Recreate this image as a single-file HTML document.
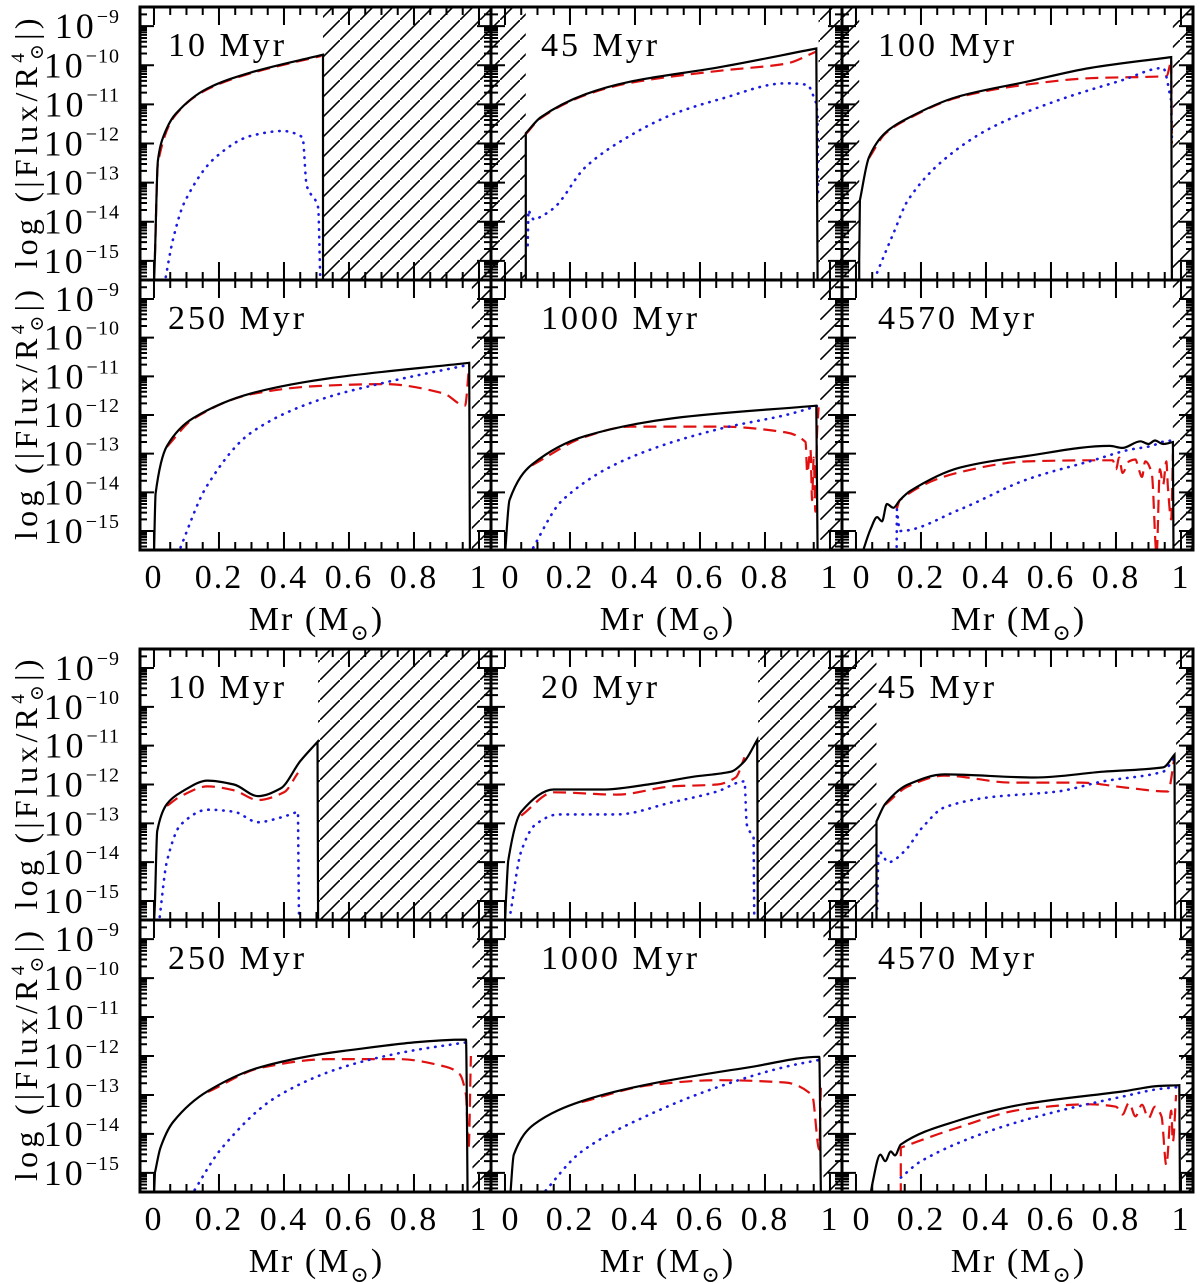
<!DOCTYPE html>
<html><head><meta charset="utf-8">
<style>
html,body{margin:0;padding:0;background:#fff;}
svg{display:block;font-family:"Liberation Serif","DejaVu Serif",serif;}
</style></head>
<body>
<svg id="fig" xmlns="http://www.w3.org/2000/svg" width="1200" height="1283" viewBox="0 0 1200 1283">
<defs>
<pattern id="hatch" patternUnits="userSpaceOnUse" width="20" height="20">
<line x1="-2" y1="22" x2="22" y2="-2" stroke="#000" stroke-width="1.6"/>
</pattern>
</defs>
</svg>
<script>
// ---- data: [mass (Msun), log10 |Flux/R^4|] ----
const b1_10_black=[[0,-15.6],[0.003,-14.9],[0.012,-12.44],[0.03,-11.8],[0.067,-11.24],[0.163,-10.6],[0.3,-10.18],[0.52,-9.73],[0.52,-15.6]];
const b1_10_red=[[0.003,-14.9],[0.012,-12.5],[0.067,-11.26],[0.163,-10.62],[0.3,-10.2],[0.515,-9.76]];
const b1_10_blue=[[0.032,-15.6],[0.06,-14.4],[0.094,-13.5],[0.19,-12.35],[0.3,-11.8],[0.396,-11.68],[0.457,-11.84],[0.47,-13.08],[0.505,-13.63],[0.512,-15.6]];
const b1_10_hatch=[[0.52,1.1]];

const b1_45_black=[[0.064,-15.6],[0.064,-11.74],[0.11,-11.33],[0.248,-10.74],[0.385,-10.42],[0.66,-10.05],[0.958,-9.57],[0.962,-15.6]];
const b1_45_red=[[0.064,-11.76],[0.11,-11.35],[0.248,-10.76],[0.385,-10.45],[0.66,-10.14],[0.864,-9.96],[0.958,-9.65]];
const b1_45_blue=[[0.07,-14.6],[0.072,-13.7],[0.09,-13.95],[0.104,-13.9],[0.153,-13.63],[0.248,-12.6],[0.385,-11.8],[0.52,-11.24],[0.66,-10.87],[0.864,-10.46],[0.93,-10.5],[0.958,-10.97],[0.962,-11.3],[0.963,-13.4]];
const b1_45_hatch=[[-0.1,0.064],[0.965,1.1]];

const b1_100_black=[[0.01,-15.6],[0.01,-14.98],[0.012,-13.45],[0.04,-12.35],[0.09,-11.73],[0.16,-11.35],[0.31,-10.81],[0.52,-10.43],[0.72,-10.07],[0.97,-9.79],[0.972,-15.6]];
const b1_100_red=[[0.04,-12.37],[0.09,-11.75],[0.16,-11.37],[0.31,-10.83],[0.52,-10.5],[0.72,-10.33],[0.955,-10.28],[0.97,-9.85],[0.972,-12.0]];
const b1_100_blue=[[0.065,-15.3],[0.115,-14.3],[0.16,-13.45],[0.27,-12.42],[0.42,-11.58],[0.62,-10.9],[0.82,-10.38],[0.945,-10.07],[0.97,-10.9],[0.972,-11.9]];
const b1_100_hatch=[[-0.1,0.01],[0.975,1.1]];

const b1_250_black=[[0,-15.6],[0.005,-14.03],[0.04,-12.8],[0.121,-12.08],[0.3,-11.44],[0.533,-11.06],[0.97,-10.65],[0.972,-15.6]];
const b1_250_red=[[0.04,-12.82],[0.121,-12.1],[0.3,-11.46],[0.505,-11.25],[0.711,-11.2],[0.89,-11.44],[0.957,-11.76],[0.97,-10.7]];
const b1_250_blue=[[0.073,-15.6],[0.163,-13.83],[0.3,-12.45],[0.505,-11.62],[0.711,-11.16],[0.97,-10.7]];
const b1_250_hatch=[[0.978,1.1]];

const b1_1000_black=[[0,-15.6],[0.014,-14.2],[0.083,-13.28],[0.248,-12.54],[0.52,-12.08],[0.958,-11.76],[0.962,-15.6]];
const b1_1000_red=[[0.083,-13.3],[0.248,-12.56],[0.385,-12.3],[0.66,-12.3],[0.864,-12.45],[0.925,-12.7],[0.93,-13.5],[0.94,-12.9],[0.945,-14.2],[0.95,-13.1],[0.955,-14.5],[0.96,-12.5],[0.965,-11.8]];
const b1_1000_blue=[[0.075,-15.6],[0.177,-14.2],[0.385,-13.1],[0.66,-12.36],[0.864,-12.0],[0.965,-11.76]];
const b1_1000_hatch=[[0.97,1.1]];

const b1_4570_black=[[0.018,-15.6],[0.045,-14.95],[0.065,-14.64],[0.08,-14.75],[0.095,-14.3],[0.115,-14.4],[0.135,-14.2],[0.166,-13.97],[0.32,-13.36],[0.525,-13.06],[0.781,-12.8],[0.82,-12.85],[0.875,-12.68],[0.9,-12.75],[0.92,-12.66],[0.945,-12.75],[0.975,-12.7],[0.977,-15.6]];
const b1_4570_red=[[0.125,-14.44],[0.135,-14.2],[0.32,-13.48],[0.525,-13.2],[0.73,-13.17],[0.79,-13.17],[0.8,-13.4],[0.81,-13.1],[0.82,-13.5],[0.84,-13.2],[0.86,-13.15],[0.87,-13.4],[0.88,-13.6],[0.89,-13.2],[0.91,-13.5],[0.925,-15.6],[0.935,-13.4],[0.945,-13.8],[0.955,-13.2],[0.96,-13.9],[0.97,-14.7],[0.975,-13.0]];
const b1_4570_blue=[[0.125,-15.6],[0.126,-14.44],[0.135,-15.0],[0.32,-14.44],[0.525,-13.67],[0.73,-13.17],[0.84,-12.9],[0.91,-12.8],[0.94,-12.7],[0.97,-12.66]];
const b1_4570_hatch=[[0.975,1.1]];

const b2_10_black=[[0,-15.6],[0.003,-15.08],[0.01,-13.2],[0.04,-12.5],[0.083,-12.2],[0.165,-11.9],[0.246,-12.0],[0.32,-12.3],[0.39,-12.1],[0.45,-11.4],[0.503,-10.9],[0.505,-15.6]];
const b2_10_red=[[0.04,-12.55],[0.083,-12.3],[0.165,-12.05],[0.246,-12.15],[0.32,-12.4],[0.4,-12.2],[0.443,-11.7]];
const b2_10_blue=[[0.015,-15.6],[0.04,-13.97],[0.083,-13.03],[0.165,-12.65],[0.246,-12.7],[0.32,-12.97],[0.39,-12.85],[0.443,-12.7],[0.446,-15.3],[0.448,-15.6]];
const b2_10_hatch=[[0.505,1.1]];

const b2_20_black=[[0,-15.6],[0.003,-15.0],[0.01,-13.97],[0.05,-12.7],[0.15,-12.13],[0.3,-12.13],[0.44,-12.0],[0.58,-11.8],[0.695,-11.67],[0.737,-11.4],[0.776,-10.85],[0.778,-15.6]];
const b2_20_red=[[0.05,-12.8],[0.15,-12.2],[0.345,-12.26],[0.513,-12.05],[0.653,-12.0],[0.71,-11.82],[0.737,-11.3]];
const b2_20_blue=[[0.017,-15.3],[0.05,-13.72],[0.094,-13.03],[0.164,-12.77],[0.345,-12.77],[0.513,-12.46],[0.653,-12.18],[0.737,-11.92],[0.744,-13.03],[0.765,-13.36],[0.767,-15.6]];
const b2_20_hatch=[[0.779,1.1]];

const b2_45_black=[[0.063,-15.6],[0.063,-12.95],[0.09,-12.5],[0.16,-12.0],[0.272,-11.74],[0.55,-11.82],[0.76,-11.67],[0.945,-11.56],[0.98,-11.23],[0.982,-15.6]];
const b2_45_red=[[0.09,-12.52],[0.16,-12.05],[0.272,-11.77],[0.48,-11.95],[0.69,-11.95],[0.83,-12.08],[0.96,-12.18],[0.98,-11.3]];
const b2_45_blue=[[0.065,-15.2],[0.07,-13.72],[0.1,-14.0],[0.149,-13.72],[0.205,-13.1],[0.272,-12.59],[0.41,-12.33],[0.62,-12.18],[0.76,-11.92],[0.945,-11.67],[0.98,-11.3]];
const b2_45_hatch=[[-0.1,0.063],[0.985,1.1]];

const b2_250_black=[[0,-15.6],[0.003,-15.0],[0.02,-14.35],[0.06,-13.68],[0.166,-12.9],[0.33,-12.28],[0.584,-11.87],[0.96,-11.58],[0.965,-15.6]];
const b2_250_red=[[0.166,-12.92],[0.33,-12.3],[0.54,-12.08],[0.75,-12.08],[0.9,-12.28],[0.94,-12.46],[0.96,-13.0],[0.968,-14.4],[0.975,-12.0]];
const b2_250_blue=[[0.113,-15.6],[0.21,-14.35],[0.375,-13.06],[0.584,-12.28],[0.79,-11.87],[0.96,-11.65]];
const b2_250_hatch=[[0.98,1.1]];

const b2_1000_black=[[0.016,-15.6],[0.027,-14.53],[0.09,-13.75],[0.236,-13.16],[0.445,-12.72],[0.758,-12.28],[0.967,-12.02],[0.972,-15.6]];
const b2_1000_red=[[0.236,-13.18],[0.445,-12.75],[0.654,-12.62],[0.862,-12.68],[0.945,-13.0],[0.967,-14.4],[0.972,-12.8]];
const b2_1000_blue=[[0.11,-15.6],[0.236,-14.45],[0.445,-13.5],[0.654,-12.8],[0.862,-12.28],[0.967,-12.1]];
const b2_1000_hatch=[[0.98,1.1]];

const b2_4570_black=[[0.044,-15.6],[0.05,-15.3],[0.075,-14.53],[0.09,-14.7],[0.107,-14.45],[0.12,-14.55],[0.138,-14.27],[0.305,-13.68],[0.514,-13.24],[0.827,-12.9],[0.93,-12.77],[0.995,-12.75],[0.997,-15.6]];
const b2_4570_red=[[0.138,-15.6],[0.138,-14.35],[0.305,-13.86],[0.514,-13.37],[0.72,-13.24],[0.8,-13.3],[0.82,-13.5],[0.84,-13.2],[0.86,-13.55],[0.88,-13.25],[0.9,-13.6],[0.92,-13.3],[0.94,-13.55],[0.955,-14.8],[0.97,-13.4],[0.975,-14.2],[0.985,-13.0]];
const b2_4570_blue=[[0.138,-15.12],[0.2,-14.7],[0.41,-13.93],[0.62,-13.42],[0.827,-13.03],[0.93,-12.85],[0.99,-12.8]];
const b2_4570_hatch=[[1.0,1.1]];

const panelTitles=["10 Myr","45 Myr","100 Myr","250 Myr","1000 Myr","4570 Myr","10 Myr","20 Myr","45 Myr","250 Myr","1000 Myr","4570 Myr"];
const decadeTicks=[-9,-10,-11,-12,-13,-14,-15];
const xTickLabels=["0","0.2","0.4","0.6","0.8","1"];
const xTickValues=[0,0.2,0.4,0.6,0.8,1];

// ---- layout ----
const NS="http://www.w3.org/2000/svg";
const svg=document.getElementById('fig');
const cols=[140,491,842], colW=351;
const rows=[[7,280],[280,550],[649,920],[920,1192]];
const XMIN=-0.043,XMAX=1.037,YMIN=-15.49,YMAX=-8.51;
function xS(c,m){return cols[c]+(m-XMIN)/(XMAX-XMIN)*colW;}
function yS(r,v){const t=rows[r][0],b=rows[r][1];return b-(v-YMIN)/(YMAX-YMIN)*(b-t);}
function mk(tag,attrs,parent){const e=document.createElementNS(NS,tag);for(const k in attrs)e.setAttribute(k,attrs[k]);(parent||svg).appendChild(e);return e;}

function smoothPath(pts){
  let d='M'+pts[0][0].toFixed(1)+' '+pts[0][1].toFixed(1);
  let runs=[],cur=[pts[0]];
  for(let i=1;i<pts.length;i++){
    if(pts[i][0]-pts[i-1][0]<1.5){runs.push(cur);cur=[pts[i]];}
    else cur.push(pts[i]);
  }
  runs.push(cur);
  runs.forEach((run,ri)=>{
    if(ri>0)d+='L'+run[0][0].toFixed(1)+' '+run[0][1].toFixed(1);
    const n=run.length;if(n<2)return;
    const dl=[],m=[];
    for(let k=0;k<n-1;k++)dl.push((run[k+1][1]-run[k][1])/(run[k+1][0]-run[k][0]));
    for(let k=0;k<n;k++){
      if(k===0)m.push(dl[0]);else if(k===n-1)m.push(dl[n-2]);
      else if(dl[k-1]*dl[k]<=0)m.push(0);
      else m.push(2/(1/dl[k-1]+1/dl[k]));
    }
    for(let k=0;k<n-1;k++){
      const h=run[k+1][0]-run[k][0];
      const c1x=run[k][0]+h/3,c1y=run[k][1]+m[k]*h/3;
      const c2x=run[k+1][0]-h/3,c2y=run[k+1][1]-m[k+1]*h/3;
      d+=`C${c1x.toFixed(1)} ${c1y.toFixed(1)} ${c2x.toFixed(1)} ${c2y.toFixed(1)} ${run[k+1][0].toFixed(1)} ${run[k+1][1].toFixed(1)}`;
    }
  });
  return d;
}

const panels=[
 {c:0,r:0,s:[b1_10_black,b1_10_red,b1_10_blue],h:b1_10_hatch,key:"b1-10"},
 {c:1,r:0,s:[b1_45_black,b1_45_red,b1_45_blue],h:b1_45_hatch,key:"b1-45"},
 {c:2,r:0,s:[b1_100_black,b1_100_red,b1_100_blue],h:b1_100_hatch,key:"b1-100"},
 {c:0,r:1,s:[b1_250_black,b1_250_red,b1_250_blue],h:b1_250_hatch,key:"b1-250"},
 {c:1,r:1,s:[b1_1000_black,b1_1000_red,b1_1000_blue],h:b1_1000_hatch,key:"b1-1000"},
 {c:2,r:1,s:[b1_4570_black,b1_4570_red,b1_4570_blue],h:b1_4570_hatch,key:"b1-4570"},
 {c:0,r:2,s:[b2_10_black,b2_10_red,b2_10_blue],h:b2_10_hatch,key:"b2-10"},
 {c:1,r:2,s:[b2_20_black,b2_20_red,b2_20_blue],h:b2_20_hatch,key:"b2-20"},
 {c:2,r:2,s:[b2_45_black,b2_45_red,b2_45_blue],h:b2_45_hatch,key:"b2-45"},
 {c:0,r:3,s:[b2_250_black,b2_250_red,b2_250_blue],h:b2_250_hatch,key:"b2-250"},
 {c:1,r:3,s:[b2_1000_black,b2_1000_red,b2_1000_blue],h:b2_1000_hatch,key:"b2-1000"},
 {c:2,r:3,s:[b2_4570_black,b2_4570_red,b2_4570_blue],h:b2_4570_hatch,key:"b2-4570"}
];
const styles=[
 {n:"total-flux-line",a:{stroke:"#000","stroke-width":"2.2",fill:"none"}},
 {n:"convective-flux-line",a:{stroke:"#e01010","stroke-width":"2.2",fill:"none","stroke-dasharray":"13 7"}},
 {n:"radiative-flux-line",a:{stroke:"#1a1ae0","stroke-width":"2.6",fill:"none","stroke-dasharray":"0.5 7","stroke-linecap":"round"}}
];
const drawOrder=[1,2,0];

panels.forEach((p,i)=>{
  const L=cols[p.c],R=L+colW,T=rows[p.r][0],B=rows[p.r][1];
  const g=mk('g',{});
  
  
  const cp=mk('clipPath',{id:'cp'+i},g);
  mk('rect',{x:L,y:T,width:colW,height:B-T},cp);
  const inner=mk('g',{'clip-path':'url(#cp'+i+')'},g);
  p.h.forEach(hr=>{
    const x0=xS(p.c,hr[0]),x1=xS(p.c,hr[1]);
    const hrect=mk('rect',{x:x0,y:T,width:x1-x0,height:B-T,fill:'url(#hatch)'},inner);
    
    
  });
  drawOrder.forEach(k=>{
    const arr=p.s[k];
    const pts=arr.map(pt=>[xS(p.c,pt[0]),yS(p.r,pt[1])]);
    const path=mk('path',Object.assign({d:smoothPath(pts)},styles[k].a),inner);
    
    
  });
  let td='';
  for(let t=0;t<=20;t++){
    const m=t*0.05,x=xS(p.c,m),len=(t%4===0)?18:8;
    td+=`M${x} ${B}V${B-len}M${x} ${T}V${T+len}`;
  }
  for(let dcd=-16;dcd<=-9;dcd++){
    for(let k=1;k<=9;k++){
      const v=dcd+Math.log10(k);
      if(v<YMIN+0.05||v>YMAX-0.05)continue;
      const y=yS(p.r,v),len=(k===1)?14:7;
      td+=`M${L} ${y}H${L+len}M${R} ${y}H${R-len}`;
    }
  }
  const ticks=mk('path',{d:td,stroke:'#000','stroke-width':'2',fill:'none'},g);
  
  
  const frame=mk('rect',{x:L,y:T,width:colW,height:B-T,fill:'none',stroke:'#000','stroke-width':'3'},g);
  
  
  const tt=mk('text',{x:L+(p.c===0?28:(p.c===1?50:36)),y:T+49,'font-size':'34','letter-spacing':'3'},g);
  tt.textContent=panelTitles[i];
  
  
});

for(let r=0;r<4;r++){
  decadeTicks.forEach(v=>{
    const y=yS(r,v);
    const t=mk('text',{x:120,y:y+12,'font-size':'36','text-anchor':'end','letter-spacing':'3'});
    
    
    t.appendChild(document.createTextNode('10'));
    const s=mk('tspan',{'font-size':'20',dy:'-15','letter-spacing':'1'},t);
    s.textContent='\u2212'+(-v);
  });
  const cy=(rows[r][0]+rows[r][1])/2;
  const yt=mk('text',{x:0,y:0,'font-size':'32','text-anchor':'middle',textLength:'250',lengthAdjust:'spacing',transform:`translate(37 ${cy}) rotate(-90)`});
  
  
  yt.appendChild(document.createTextNode('log (|Flux/R'));
  const sup=mk('tspan',{'font-size':'19',dy:'-13'},yt); sup.textContent='4';
  const sub=mk('tspan',{'font-size':'19',dx:'-11',dy:'19'},yt); sub.textContent='\u2299';
  const end=mk('tspan',{dy:'-6'},yt); end.textContent='|)';
}
[588,1230].forEach((by,bi)=>{
  for(let c=0;c<3;c++){
    xTickValues.forEach((m,j)=>{
      const t=mk('text',{x:xS(c,m)+(j===0&&c>0?6:0),y:by,'font-size':'34','text-anchor':'middle','letter-spacing':'2'});
      t.textContent=xTickLabels[j];
      
      
    });
    const xt=mk('text',{x:xS(c,0.5),y:by+42,'font-size':'34','text-anchor':'middle','letter-spacing':'2'});
    
    
    xt.appendChild(document.createTextNode('Mr (M'));
    const s=mk('tspan',{'font-size':'22',dy:'10'},xt); s.textContent='\u2299';
    const e=mk('tspan',{dy:'-10'},xt); e.textContent=')';
  }
});
</script>
</body></html>
